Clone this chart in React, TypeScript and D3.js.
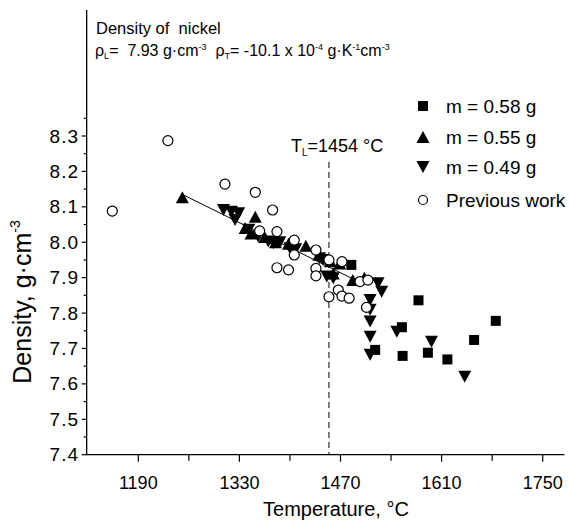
import React from "react";
import * as d3 from "d3";

// ---- data ----
const xTicksMajor = [1190, 1330, 1470, 1610, 1750];
const xTicksMinor = [1260, 1400, 1540, 1680];
const yTicksMajor = [7.4, 7.5, 7.6, 7.7, 7.8, 7.9, 8.0, 8.1, 8.2, 8.3];
const yTicksMinor = [7.45, 7.55, 7.65, 7.75, 7.85, 7.95, 8.05, 8.15, 8.25, 8.35];

// m = 0.58 g (squares) [T °C, density]
const sq058: [number, number][] = [
  [1485, 7.936], [1578, 7.836], [1555, 7.76], [1685, 7.778], [1655, 7.724],
  [1556, 7.679], [1591, 7.688], [1618, 7.669], [1518, 7.696],
];
// m = 0.55 g (up triangles)
const up055: [number, number][] = [
  [1251, 8.127], [1352, 8.072], [1338, 8.04], [1346, 8.025], [1365, 8.015],
  [1380, 8.0], [1398, 7.996], [1422, 7.99], [1440, 7.965], [1456, 7.946],
  [1469, 7.94], [1460, 7.912], [1487, 7.893], [1503, 7.9],
];
// m = 0.49 g (down triangles)
const dn049: [number, number][] = [
  [1308, 8.091], [1319, 8.086], [1329, 8.082], [1324, 8.063], [1343, 8.035],
  [1356, 8.016], [1370, 8.002], [1377, 7.997], [1386, 8.0], [1400, 7.983],
  [1408, 7.98], [1441, 7.955], [1446, 7.95], [1451, 7.903], [1460, 7.898],
  [1522, 7.884], [1527, 7.86], [1511, 7.837], [1511, 7.809], [1511, 7.776],
  [1511, 7.733], [1511, 7.682], [1548, 7.747], [1596, 7.719], [1642, 7.62],
];
// previous work (open circles)
const prev: [number, number][] = [
  [1154, 8.088], [1231, 8.287], [1310, 8.164], [1352, 8.141], [1376, 8.091],
  [1358, 8.032], [1382, 8.03], [1406, 8.006], [1406, 7.964], [1436, 7.978],
  [1382, 7.928], [1398, 7.922], [1436, 7.926], [1436, 7.905], [1454, 7.95],
  [1472, 7.945], [1497, 7.889], [1508, 7.893], [1454, 7.846], [1467, 7.865],
  [1472, 7.848], [1482, 7.842], [1506, 7.816],
];
// linear fit: rho = rhoL + rhoT * (T - TL)
const rhoL = 7.93;
const rhoT = -10.1e-4;
const TL = 1454;
const fitRange = [1251, 1495];

const legendLabels = ["m = 0.58 g", "m = 0.55 g", "m = 0.49 g", "Previous work"];

const FONT = "'Liberation Sans', Arial, Helvetica, sans-serif";

const triUp = (cx: number, cy: number) => {
  const w = 13, h = 12;
  return `M${cx},${cy - h / 2}L${cx + w / 2},${cy + h / 2}L${cx - w / 2},${cy + h / 2}Z`;
};
const triDown = (cx: number, cy: number) => {
  const w = 13, h = 12;
  return `M${cx},${cy + h / 2}L${cx + w / 2},${cy - h / 2}L${cx - w / 2},${cy - h / 2}Z`;
};

export default function App() {
  const x = d3.scaleLinear().domain([1190, 1750]).range([138.3, 542.7]);
  const y = d3.scaleLinear().domain([7.4, 8.3]).range([454.7, 136]);
  const xLeft = x(1118.5);
  const xRight = x(1780);
  const yBottom = y(7.4);
  const yTop = 10;

  const line = d3
    .line<number>()
    .x((t) => x(t))
    .y((t) => y(rhoL + rhoT * (t - TL)));

  const sq = 10;
  const legX = 423;
  const legTextX = 446;
  const legY = [106, 137, 167, 200];

  return (
    <svg
      width={569}
      height={523}
      style={{ position: "absolute", left: 0, top: 0, background: "#fff" }}
      fontFamily={FONT}
    >
      <rect x={0} y={0} width={569} height={523} fill="#fff" />
      {/* axes */}
      <line x1={xLeft} x2={xLeft} y1={yTop} y2={yBottom} stroke="#000" strokeWidth={1.3} />
      <line x1={xLeft} x2={xRight} y1={yBottom} y2={yBottom} stroke="#000" strokeWidth={1.3} />
      {xTicksMajor.map((t) => (
        <g key={"xm" + t}>
          <line x1={x(t)} x2={x(t)} y1={yBottom} y2={yBottom + 7} stroke="#000" strokeWidth={1.2} />
          <text x={x(t)} y={489} fontSize={18} textAnchor="middle">
            {t}
          </text>
        </g>
      ))}
      {xTicksMinor.map((t) => (
        <line key={"xn" + t} x1={x(t)} x2={x(t)} y1={yBottom} y2={yBottom + 6} stroke="#000" strokeWidth={1.2} />
      ))}
      {yTicksMajor.map((v) => (
        <g key={"ym" + v}>
          <line x1={xLeft - 5} x2={xLeft} y1={y(v)} y2={y(v)} stroke="#000" strokeWidth={1.2} />
          <text x={79} y={y(v) + 6.5} fontSize={19} letterSpacing={1} textAnchor="end">
            {v.toFixed(1)}
          </text>
        </g>
      ))}
      {yTicksMinor.map((v) => (
        <line key={"yn" + v} x1={xLeft - 3} x2={xLeft} y1={y(v)} y2={y(v)} stroke="#000" strokeWidth={1.2} />
      ))}

      {/* axis titles */}
      <text x={336} y={516} fontSize={20} textAnchor="middle">
        Temperature, °C
      </text>
      <text transform={`translate(31,${302}) rotate(-90)`} fontSize={25} textAnchor="middle">
        Density, g·cm<tspan dy={-11} fontSize={14}>-3</tspan>
      </text>

      {/* header */}
      <text x={96} y={34} fontSize={16.5}>
        Density of{"\u00a0 "}nickel
      </text>
      <text x={95} y={56} fontSize={16}>
        ρ<tspan dy={3} fontSize={9}>L</tspan>
        <tspan dy={-3}>= {"\u00a0"}7.93 g·cm</tspan>
        <tspan dy={-6} fontSize={9}>-3</tspan>
        <tspan dy={6}>{"\u00a0 "}ρ</tspan>
        <tspan dy={3} fontSize={9}>T</tspan>
        <tspan dy={-3}>= -10.1 x 10</tspan>
        <tspan dy={-6} fontSize={9}>-4</tspan>
        <tspan dy={6}> g·K</tspan>
        <tspan dy={-6} fontSize={9}>-1</tspan>
        <tspan dy={6}>cm</tspan>
        <tspan dy={-6} fontSize={9}>-3</tspan>
      </text>

      {/* liquidus line */}
      <line x1={x(TL)} x2={x(TL)} y1={162} y2={yBottom} stroke="#000" strokeWidth={1} strokeDasharray="6,4" />
      <text x={291} y={152} fontSize={18}>
        T<tspan dy={4} fontSize={10}>L</tspan>
        <tspan dy={-4}>=1454 °C</tspan>
      </text>

      {/* markers */}
      {sq058.map(([t, r], i) => (
        <rect key={"s" + i} x={x(t) - sq / 2} y={y(r) - sq / 2} width={sq} height={sq} fill="#000" />
      ))}
      {up055.map(([t, r], i) => (
        <path key={"u" + i} d={triUp(x(t), y(r))} fill="#000" />
      ))}
      {dn049.map(([t, r], i) => (
        <path key={"d" + i} d={triDown(x(t), y(r))} fill="#000" />
      ))}
      <path d={line([fitRange[0], fitRange[1]]) || ""} fill="none" stroke="#000" strokeWidth={1} />
      {prev.map(([t, r], i) => (
        <circle key={"c" + i} cx={x(t)} cy={y(r)} r={5} fill="#fff" stroke="#000" strokeWidth={1.2} />
      ))}

      {/* legend */}
      <rect x={legX - 5} y={legY[0] - 5} width={10} height={10} fill="#000" />
      <path d={triUp(legX, legY[1])} fill="#000" />
      <path d={triDown(legX, legY[2])} fill="#000" />
      <circle cx={legX} cy={legY[3]} r={4.5} fill="#fff" stroke="#000" strokeWidth={1.2} />
      {legendLabels.map((s, i) => (
        <text key={s} x={legTextX} y={legY[i] + 7} fontSize={19}>
          {s}
        </text>
      ))}
    </svg>
  );
}
